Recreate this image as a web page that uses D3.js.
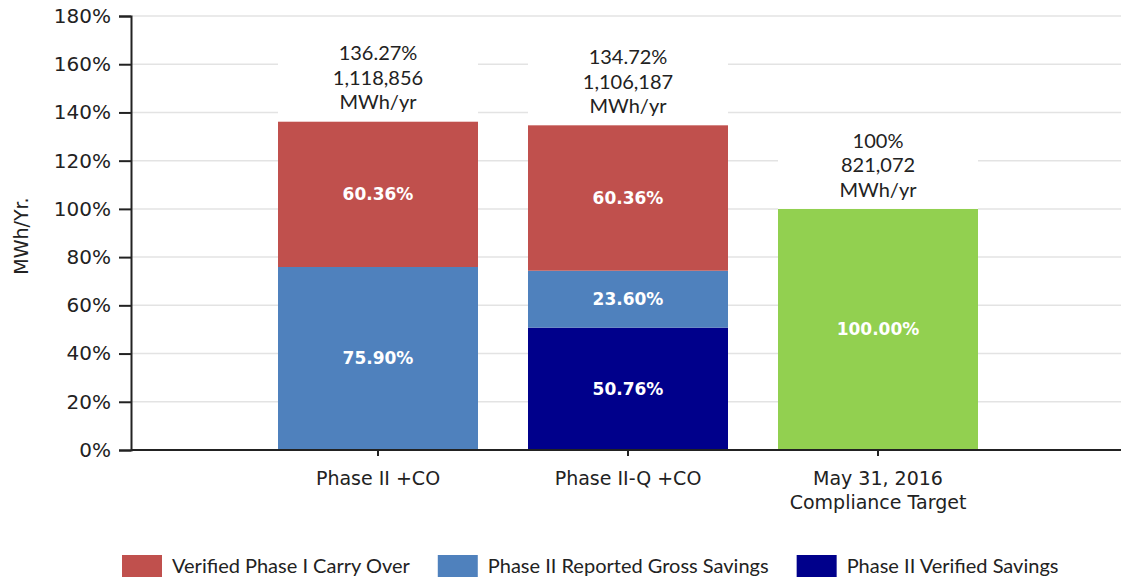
<!DOCTYPE html>
<meta charset="utf-8">
<script src="https://d3js.org/d3.v7.min.js"></script>
<style>
  body { margin: 0; background: #fff; }
</style>
<div id="my_dataviz"></div>
<script>

// data
var categories = ["Phase II +CO", "Phase II-Q +CO", "May 31, 2016|Compliance Target"];
var carryOver     = [60.36, 60.36, 0];
var reportedGross = [75.90, 23.60, 0];
var verified      = [0, 50.76, 0];
var target        = [0, 0, 100];
var totalPct = ["136.27%", "134.72%", "100%"];
var totalMWh = ["1,118,856", "1,106,187", "821,072"];
var yTicks = [0, 20, 40, 60, 80, 100, 120, 140, 160, 180];
var legendNames = ["Verified Phase I Carry Over", "Phase II Reported Gross Savings", "Phase II Verified Savings"];

var keys = ["verified", "gross", "carry", "target"];
var colors = {verified: "#00008B", gross: "#4F81BD", carry: "#C0504D", target: "#92D050"};

var data = categories.map(function(c, i) {
  return {cat: c, verified: verified[i], gross: reportedGross[i], carry: carryOver[i], target: target[i]};
});

var width = 1121, height = 580;
var margin = {top: 16, left: 131, bottom: 130};

var svg = d3.select("#my_dataviz").append("svg")
  .attr("width", width).attr("height", height);

var x = d3.scaleBand().domain(categories).range([253, 1003])
  .paddingInner(0.2).paddingOuter(0.1);
var y = d3.scaleLinear().domain([0, 180]).range([450, 16]);

// gridlines
svg.append("g").selectAll("line").data(yTicks.filter(function(d){ return d > 0; }))
  .enter().append("line")
  .attr("x1", margin.left).attr("x2", width)
  .attr("y1", function(d){ return y(d); }).attr("y2", function(d){ return y(d); })
  .attr("stroke", "#e3e3e3").attr("stroke-width", 1.5);

// stacked bars
var series = d3.stack().keys(keys)(data);
svg.append("g").selectAll("g").data(series).enter().append("g")
  .attr("fill", function(d){ return colors[d.key]; })
  .selectAll("rect").data(function(d){ return d; }).enter()
  .filter(function(d){ return d[1] - d[0] > 0; })
  .append("rect")
  .attr("x", function(d){ return x(d.data.cat); })
  .attr("width", x.bandwidth())
  .attr("y", function(d){ return y(d[1]); })
  .attr("height", function(d){ return y(d[0]) - y(d[1]); });

// values inside segments
series.forEach(function(s) {
  svg.append("g").selectAll("text").data(s.filter(function(d){ return d[1] - d[0] > 0; }))
    .enter().append("text")
    .attr("x", function(d){ return x(d.data.cat) + x.bandwidth() / 2; })
    .attr("y", function(d){ return (y(d[0]) + y(d[1])) / 2 + 6; })
    .attr("text-anchor", "middle")
    .style("font-family", "DejaVu Sans").style("font-weight", "bold")
    .style("font-size", "17px").attr("fill", "#fff")
    .text(function(d){ return (d[1] - d[0]).toFixed(2) + "%"; });
});

// totals above bars, white box hides the gridlines
var tops = series[series.length - 1];
var tot = svg.append("g").selectAll("g").data(tops).enter().append("g")
  .attr("transform", function(d){ return "translate(" + (x(d.data.cat) + x.bandwidth() / 2) + "," + y(d[1]) + ")"; });
tot.append("rect")
  .attr("x", -x.bandwidth() / 2).attr("width", x.bandwidth())
  .attr("y", -80).attr("height", 80).attr("fill", "#fff");
tot.each(function(d, i) {
  var lines = [totalPct[i], totalMWh[i], "MWh/yr"];
  d3.select(this).selectAll("text").data(lines).enter().append("text")
    .attr("y", function(l, j){ return -61 + j * 24.5; })
    .attr("text-anchor", "middle")
    .style("font-family", "Lato").style("font-size", "20px").attr("fill", "#222")
    .text(function(l){ return l; });
});

// y axis
var yAxis = svg.append("g").attr("transform", "translate(" + margin.left + ",0)")
  .call(d3.axisLeft(y).tickValues(yTicks).tickSize(12).tickPadding(8)
    .tickFormat(function(d){ return d + "%"; }));
yAxis.select(".domain").attr("stroke", "#222").attr("stroke-width", 2);
yAxis.selectAll(".tick line").attr("stroke", "#222").attr("stroke-width", 2);
yAxis.selectAll("text").style("font-family", "DejaVu Sans").style("font-size", "20px").attr("fill", "#222");

// x axis
var xAxis = svg.append("g").attr("transform", "translate(0,450)")
  .call(d3.axisBottom(x).tickSize(6).tickSizeOuter(0).tickPadding(10).tickFormat(""));
xAxis.select(".domain").attr("d", "M" + margin.left + ",0H" + width)
  .attr("stroke", "#222").attr("stroke-width", 2);
xAxis.selectAll(".tick line").attr("stroke", "#222").attr("stroke-width", 2);
xAxis.selectAll(".tick").each(function(d) {
  var parts = d.split("|");
  d3.select(this).selectAll("text.lbl").data(parts).enter().append("text")
    .attr("class", "lbl")
    .attr("y", function(p, j){ return 35 + j * 24; })
    .attr("text-anchor", "middle")
    .style("font-family", "DejaVu Sans").style("font-size", "19px").attr("fill", "#222")
    .text(function(p){ return p; });
});

// y title
svg.append("text")
  .attr("transform", "translate(28,236) rotate(-90)")
  .attr("text-anchor", "middle")
  .style("font-family", "DejaVu Sans").style("font-size", "19px").attr("fill", "#222")
  .text("MWh/Yr.");

// legend
var legendColors = [colors.carry, colors.gross, colors.verified];
var lx = 122;
legendNames.forEach(function(name, i) {
  var g = svg.append("g").attr("transform", "translate(" + lx + ",555)");
  g.append("rect").attr("width", 40).attr("height", 22).attr("fill", legendColors[i]);
  var t = g.append("text").attr("x", 50).attr("y", 18)
    .style("font-family", "Lato").style("font-size", "20px").attr("fill", "#222")
    .text(name);
  lx += 50 + t.node().getComputedTextLength() + 28;
});

</script>
